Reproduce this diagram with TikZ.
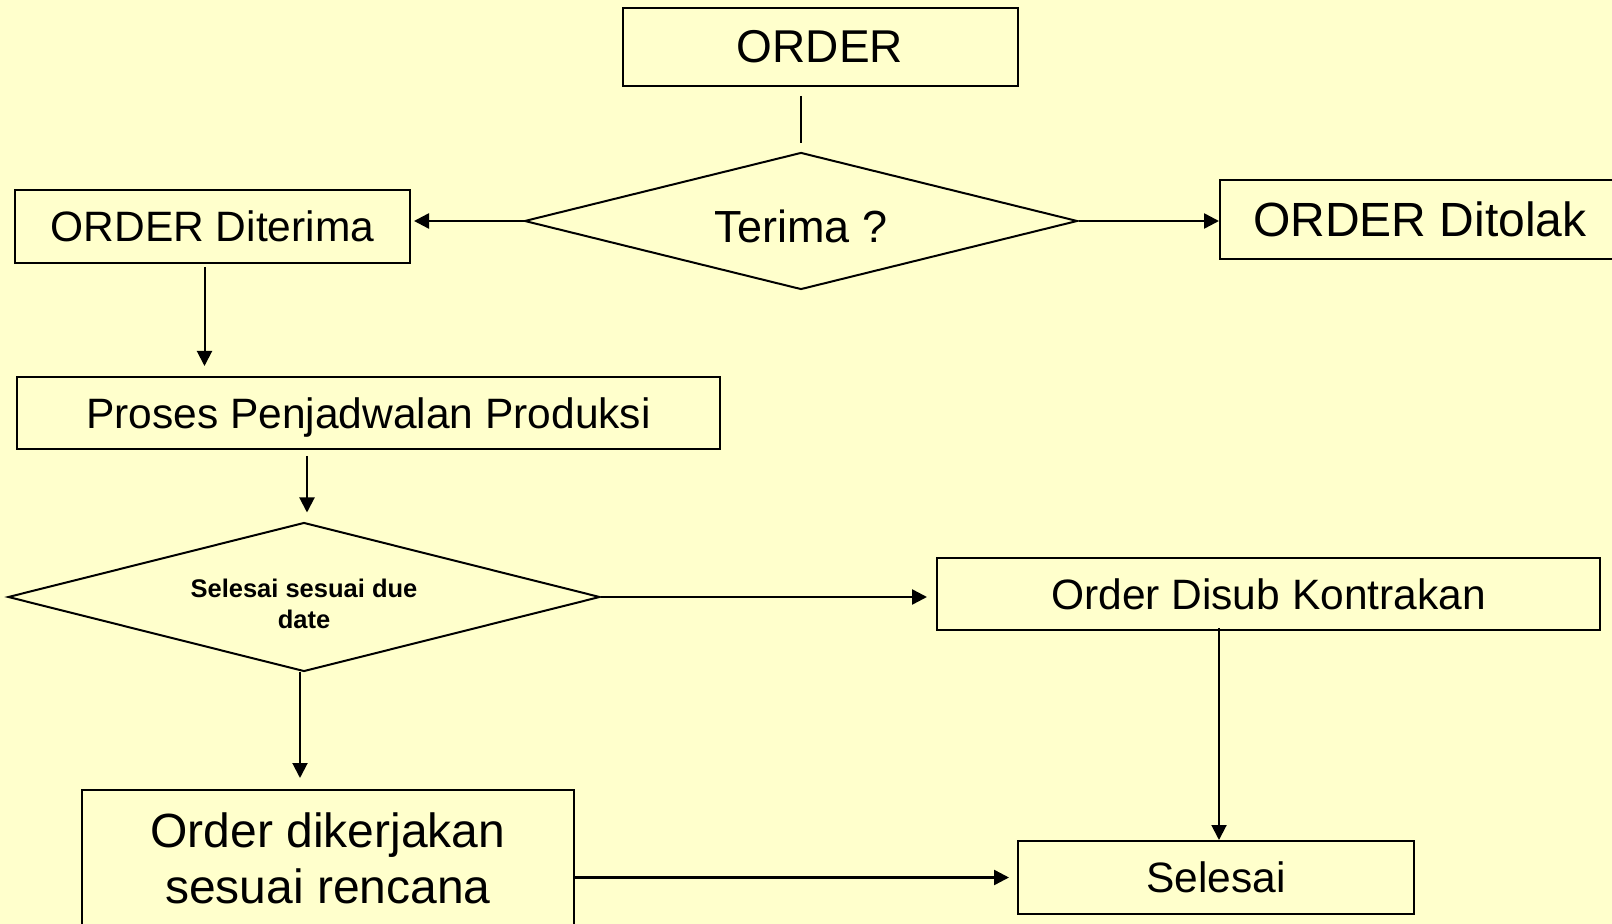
\documentclass[tikz,border=0pt]{standalone}
\usepackage{fontspec}
\setmainfont{Liberation Sans}
\usetikzlibrary{arrows.meta,shapes.geometric}
\definecolor{bgyellow}{HTML}{FFFFCC}
\newcommand{\fsz}[2]{\fontsize{#1}{#2}\selectfont}

\tikzset{
  box/.style={draw, rectangle, inner sep=0pt, line width=1pt, align=center,
              font=\fsz{21.25}{25}},
  query/.style={draw, diamond, aspect=4, inner sep=0pt, line width=1pt, align=center},
  flow/.style={-{Triangle[length=7.5pt,width=7.5pt]}, line width=1pt},
}

\begin{document}
\begin{tikzpicture}[x=0.5pt,y=-0.5pt]
\fill[bgyellow] (0,0) rectangle (1612,924);
\useasboundingbox (0,0) rectangle (1612,924);
\clip (0,0) rectangle (1612,924);

% boxes and decisions
\node[box, minimum width=197.5pt, minimum height=39pt, font=\fsz{23}{27}] (order) at (820,47) {ORDER};
\node[query, minimum width=276.5pt, minimum height=68.5pt, font=\fsz{22.5}{27},
      text height=21.4pt, text depth=0pt] (terima) at (801,221) {Terima ?};
\node[box, minimum width=197.5pt, minimum height=36.5pt] (diterima) at (212.5,226.5) {ORDER Diterima};
\node[box, minimum width=200pt, minimum height=39.5pt, font=\fsz{24}{28}] (ditolak) at (1420,219.5) {ORDER Ditolak};
\node[box, minimum width=351.5pt, minimum height=36pt, text depth=0pt] (proses) at (368.5,413) {Proses Penjadwalan Produksi};
\node[query, minimum width=296pt, minimum height=74.5pt, font=\bfseries\fsz{12.75}{15.5},
      text height=31.8pt, text depth=0pt] (due) at (304,597) {Selesai sesuai due\\date};
\node[box, minimum width=331.5pt, minimum height=36pt] (disub) at (1268.5,594) {Order Disub Kontrakan};
\node[box, minimum width=198pt, minimum height=36.5pt] (selesai) at (1216,877.5) {Selesai};
\node[box, minimum width=246pt, minimum height=68pt, font=\fsz{24}{28}] (kerja) at (328,858) {Order dikerjakan\\sesuai rencana};

% connectors
\draw[line width=1pt, shorten <=4.5pt, shorten >=4pt] (terima.north |- order.south) -- (terima.north);
\draw[flow, line width=1.25pt, shorten >=1.5pt] (terima.west) -- (terima.west -| diterima.east);
\draw[flow, line width=1.25pt] (terima.east) -- (terima.east -| ditolak.west);
\draw[flow, shorten <=1.5pt, shorten >=5pt] ([xshift=-4pt]diterima.south) -- ([xshift=-4pt]diterima.south |- proses.north);
\draw[flow, shorten <=3pt, shorten >=4.5pt] ([xshift=1.5pt]due.north |- proses.south) -- ([xshift=1.5pt]due.north);
\draw[flow, line width=1.25pt, shorten >=4.5pt] (due.east) -- (due.east -| disub.west);
\draw[flow, shorten >=5.5pt] ([xshift=-2pt]due.south) -- ([xshift=-2pt]due.south |- kerja.north);
\draw[flow, shorten <=-1.5pt] ([xshift=1.5pt]selesai.north |- disub.south) -- ([xshift=1.5pt]selesai.north);
\draw[flow, line width=1.25pt, shorten >=4pt] (kerja.east |- selesai.west) -- (selesai.west);
\end{tikzpicture}
\end{document}
